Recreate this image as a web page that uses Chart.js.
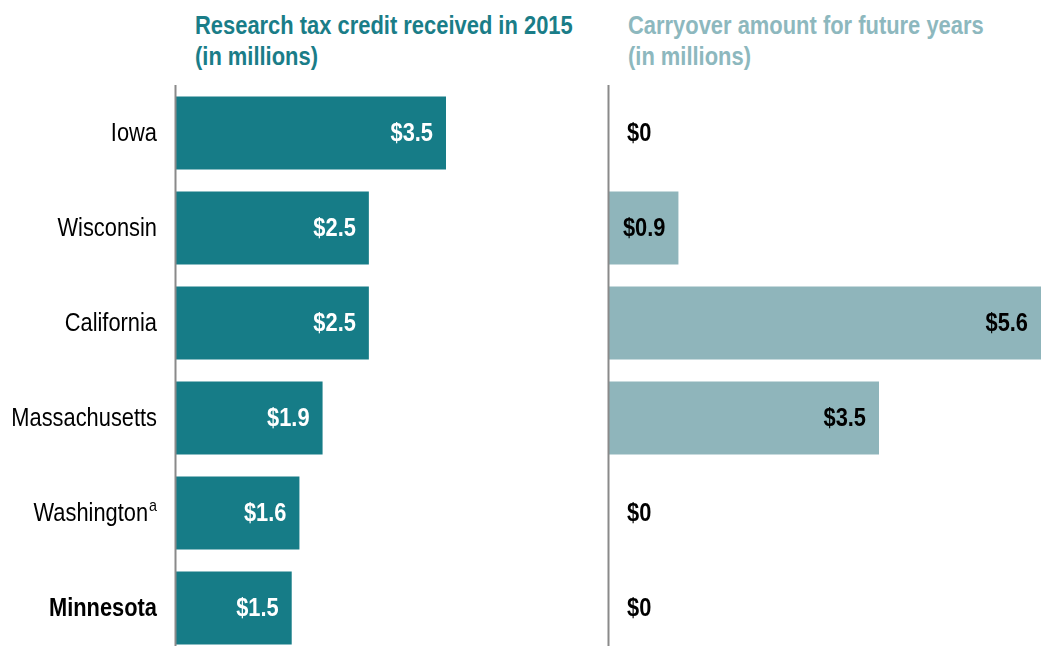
<!DOCTYPE html>
<html>
<head>
<meta charset="utf-8">
<script src="https://cdn.jsdelivr.net/npm/chart.js@4/dist/chart.umd.min.js"></script>
<style>
  html, body { margin: 0; padding: 0; background: #fff; overflow: hidden; width: 1041px; height: 646px; }
  .title { position: absolute; top: 10px; font-family: 'Liberation Sans', Arial, sans-serif; font-weight: bold; font-size: 26px; line-height: 31px; white-space: nowrap; transform: scaleX(0.843); transform-origin: 0 0; }
  #t1 { left: 195px; color: #1a7d88; }
  #t2 { left: 628px; color: #8db8be; }
  #c1 { position: absolute; left: 0; top: 0; }
  #c2 { position: absolute; left: 600px; top: 0; }
</style>
</head>
<body>
<div class="title" id="t1">Research tax credit received in 2015<br>(in millions)</div>
<div class="title" id="t2">Carryover amount for future years<br>(in millions)</div>
<canvas id="c1" width="608" height="660"></canvas>
<canvas id="c2" width="441" height="660"></canvas>
<script>
const states = ["Iowa", "Wisconsin", "California", "Massachusetts", "Washington", "Minnesota"];
const footnotes = ["", "", "", "", "a", ""];
const boldStates = [false, false, false, false, false, true];
const creditReceived = [3.5, 2.5, 2.5, 1.9, 1.6, 1.5];
const carryover = [0, 0.9, 5.6, 3.5, 0, 0];
const axisMax = 5.6;

const FONT = "'Liberation Sans', Arial, sans-serif";
const NARROW = 0.84;

// draw horizontally condensed text (Arial Narrow look)
function narrowText(ctx, txt, x, y, align) {
  const w = ctx.measureText(txt).width * NARROW;
  let left = x;
  if (align === 'right') left = x - w;
  else if (align === 'center') left = x - w / 2;
  ctx.save();
  ctx.translate(left, y);
  ctx.scale(NARROW, 1);
  ctx.textAlign = 'left';
  ctx.fillText(txt, 0, 0);
  ctx.restore();
  return w;
}

const axisLine = {
  id: 'axisLine',
  afterDatasetsDraw(chart) {
    const ctx = chart.ctx, a = chart.chartArea;
    ctx.save();
    ctx.strokeStyle = '#8a8a8a';
    ctx.lineWidth = 2;
    ctx.beginPath();
    ctx.moveTo(a.left - 0.5, 85);
    ctx.lineTo(a.left - 0.5, chart.height);
    ctx.stroke();
    ctx.restore();
  }
};

const valueLabels = (color) => ({
  id: 'valueLabels',
  afterDatasetsDraw(chart) {
    const ctx = chart.ctx;
    const meta = chart.getDatasetMeta(0);
    const data = chart.data.datasets[0].data;
    ctx.save();
    ctx.font = 'bold 26px ' + FONT;
    ctx.fillStyle = color;
    ctx.textBaseline = 'middle';
    meta.data.forEach((bar, i) => {
      const v = data[i];
      const txt = '$' + (v === 0 ? '0' : v.toFixed(1));
      if (v === 0) {
        narrowText(ctx, txt, bar.base + 18, bar.y + 1, 'left');
      } else {
        narrowText(ctx, txt, bar.x - 13, bar.y + 1, 'right');
      }
    });
    ctx.restore();
  }
});

const catLabels = {
  id: 'catLabels',
  afterDraw(chart) {
    const ctx = chart.ctx, ys = chart.scales.y;
    const right = chart.chartArea.left - 19;
    ctx.save();
    ctx.fillStyle = '#000';
    ctx.textBaseline = 'middle';
    states.forEach((s, i) => {
      const y = ys.getPixelForValue(i) + 1;
      let x = right;
      if (footnotes[i]) {
        ctx.font = '17px ' + FONT;
        x -= narrowText(ctx, footnotes[i], x, y - 8, 'right') + 1;
      }
      ctx.font = (boldStates[i] ? 'bold ' : '') + '26px ' + FONT;
      narrowText(ctx, s, x, y, 'right');
    });
    ctx.restore();
  }
};

function makeChart(id, data, color, padLeft, plugins) {
  return new Chart(document.getElementById(id), {
    type: 'bar',
    data: {
      labels: states,
      datasets: [{ data: data, backgroundColor: color, borderWidth: 0, categoryPercentage: 1, barPercentage: 0.77 }]
    },
    options: {
      indexAxis: 'y',
      responsive: false,
      animation: false,
      layout: { padding: { left: padLeft, right: 0, top: 85.5, bottom: 4.5 } },
      scales: {
        x: { display: false, min: 0, max: axisMax },
        y: { display: false }
      },
      plugins: { legend: { display: false }, tooltip: { enabled: false }, title: { display: false } }
    },
    plugins: plugins
  });
}

makeChart('c1', creditReceived, '#167c87', 176, [axisLine, valueLabels('#ffffff'), catLabels]);
makeChart('c2', carryover, '#8fb5bb', 9, [axisLine, valueLabels('#000000')]);
</script>
</body>
</html>
